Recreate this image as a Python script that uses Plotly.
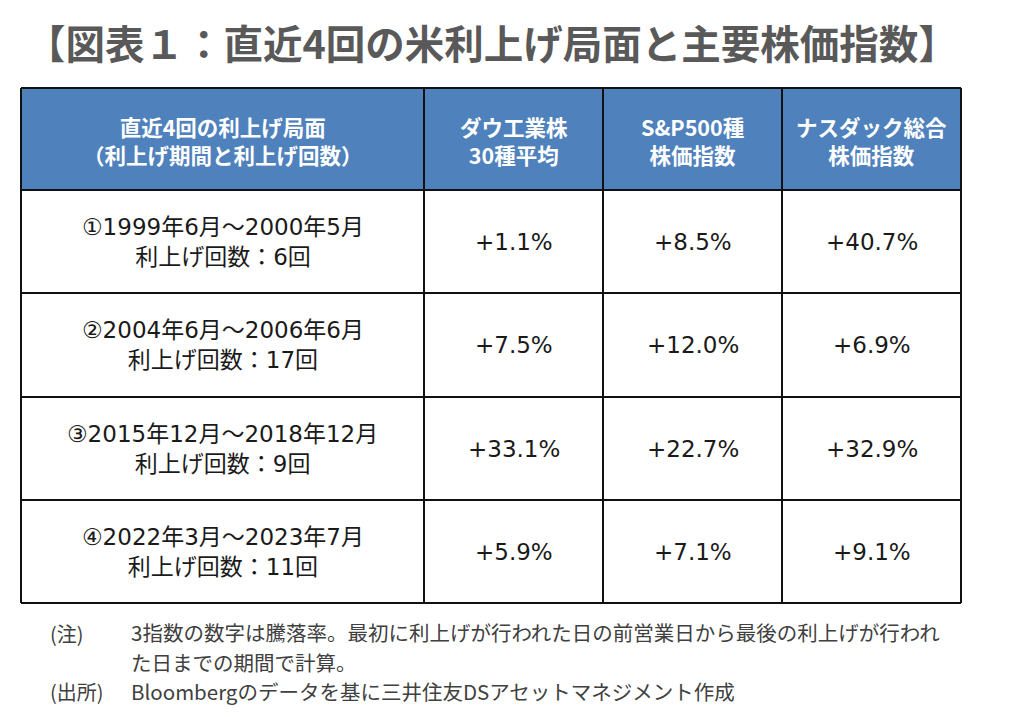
import plotly.graph_objects as go

# --- data ---
title = "【図表１：直近4回の米利上げ局面と主要株価指数】"
headers = [
    "直近4回の利上げ局面<br>（利上げ期間と利上げ回数）",
    "ダウ工業株<br>30種平均",
    "S&amp;P500種<br>株価指数",
    "ナスダック総合<br>株価指数",
]
periods = [
    "①1999年6月～2000年5月<br>利上げ回数：6回",
    "②2004年6月～2006年6月<br>利上げ回数：17回",
    "③2015年12月～2018年12月<br>利上げ回数：9回",
    "④2022年3月～2023年7月<br>利上げ回数：11回",
]
dow = ["+1.1%", "+7.5%", "+33.1%", "+5.9%"]
sp500 = ["+8.5%", "+12.0%", "+22.7%", "+7.1%"]
nasdaq = ["+40.7%", "+6.9%", "+32.9%", "+9.1%"]
note_label = "(注)"
note_lines = [
    "3指数の数字は騰落率。最初に利上げが行われた日の前営業日から最後の利上げが行われ",
    "た日までの期間で計算。",
]
source_label = "(出所)"
source_text = "Bloombergのデータを基に三井住友DSアセットマネジメント作成"

# --- layout geometry (page pixel units; the page body has an 8px margin) ---
CJK = "Noto Sans CJK JP"
BODY = "DejaVu Sans, Noto Sans CJK JP"
col_edges = [21, 424, 603, 782, 961]
row_edges = [88, 190, 293, 397, 500, 603]
header_fill = "#4F81BD"
ink = "#1a1a1a"
note_ink = "#404040"

shapes = []
annotations = []

# header background
shapes.append(dict(type="rect", x0=col_edges[0], x1=col_edges[-1],
                   y0=row_edges[0], y1=row_edges[1],
                   fillcolor=header_fill, line_width=0, layer="below"))

# grid lines
for x in col_edges:
    shapes.append(dict(type="line", x0=x, x1=x, y0=row_edges[0], y1=row_edges[-1],
                       line=dict(color="#111111", width=2)))
for y in row_edges:
    shapes.append(dict(type="line", x0=col_edges[0], x1=col_edges[-1], y0=y, y1=y,
                       line=dict(color="#111111", width=2)))


def cx(i):
    return (col_edges[i] + col_edges[i + 1]) / 2


def cy(j):
    return (row_edges[j] + row_edges[j + 1]) / 2


for i, h in enumerate(headers):
    annotations.append(dict(x=cx(i), y=cy(0) + 1, text="<b>%s</b>" % h, showarrow=False,
                            font=dict(family=CJK, size=21.5, color="white")))

body_cols = [periods, dow, sp500, nasdaq]
for i, col in enumerate(body_cols):
    for j, val in enumerate(col):
        annotations.append(dict(x=cx(i), y=cy(j + 1), text=val, showarrow=False,
                                font=dict(family=BODY, size=23, color=ink)))

# title
annotations.append(dict(x=492, y=41, text="<b>%s</b>" % title, showarrow=False,
                        font=dict(family=CJK, size=39.5, color="#595959")))

# notes
annotations.append(dict(x=48, y=633, text=note_label, showarrow=False, xanchor="left",
                        font=dict(family=CJK, size=20, color=note_ink)))
for k, line in enumerate(note_lines):
    annotations.append(dict(x=129, y=632 + 30 * k, text=line, showarrow=False,
                            xanchor="left", font=dict(family=CJK, size=20.5, color=note_ink)))
annotations.append(dict(x=48, y=691, text=source_label, showarrow=False, xanchor="left",
                        font=dict(family=CJK, size=20, color=note_ink)))
annotations.append(dict(x=129, y=691, text=source_text, showarrow=False, xanchor="left",
                        font=dict(family=CJK, size=20.5, color=note_ink)))

fig = go.Figure()
fig.update_layout(
    width=1008, height=701,
    margin=dict(l=0, r=0, t=0, b=0),
    paper_bgcolor="white", plot_bgcolor="white",
    xaxis=dict(range=[8, 1016], visible=False, fixedrange=True),
    yaxis=dict(range=[709, 8], visible=False, fixedrange=True),
    shapes=shapes,
    annotations=annotations,
    showlegend=False,
)

fig.write_html("out.html")
